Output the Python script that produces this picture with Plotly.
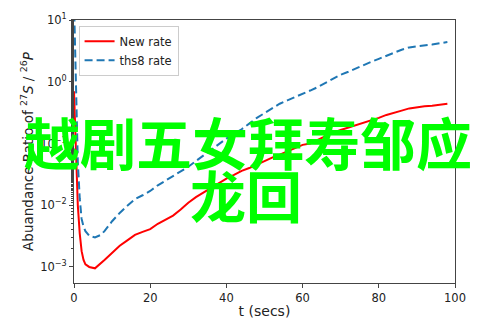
import plotly.graph_objects as go

# Time grid (seconds) and abundance ratios for both reaction-rate sets
t_new = [0, 0.3, 0.6, 1, 1.5, 2, 2.5, 3, 4, 5.5, 8, 10, 12, 14, 16, 18, 20, 22, 24, 26,
         28, 30, 32, 34, 36, 38, 40, 42, 44, 46, 48, 50, 52, 54, 56, 58, 60, 62, 64, 66,
         68, 70, 72, 74, 76, 78, 80, 82, 84, 86, 88, 90, 92, 94, 96, 98]
ratio_new = [0.7, 0.2, 0.04, 0.01, 3.5e-3, 1.8e-3, 1.3e-3, 1.1e-3, 1.0e-3, 9.5e-4,
             1.3e-3, 1.7e-3, 2.2e-3, 2.7e-3, 3.3e-3, 3.7e-3, 4.1e-3, 5.0e-3, 5.9e-3, 6.8e-3,
             8.5e-3, 0.011, 0.0135, 0.016, 0.019, 0.023, 0.027, 0.031, 0.036, 0.040,
             0.046, 0.052, 0.059, 0.066, 0.075, 0.085, 0.095, 0.10, 0.115, 0.13,
             0.15, 0.165, 0.18, 0.20, 0.22, 0.24, 0.26, 0.29, 0.31, 0.34,
             0.37, 0.39, 0.40, 0.41, 0.43, 0.44]

t_ths8 = [0, 0.3, 0.6, 1, 1.5, 2, 2.5, 3, 4, 5.5, 7, 8, 10, 12, 14, 16, 18, 20, 22, 24,
          26, 28, 30, 32, 34, 36, 38, 40, 42, 44, 46, 48, 50, 52, 54, 56, 58, 60, 62, 64,
          66, 68, 70, 72, 74, 76, 78, 80, 82, 84, 86, 88, 90, 92, 94, 96, 98]
ratio_ths8 = [20, 3, 0.3, 0.05, 0.013, 6e-3, 4.5e-3, 3.8e-3, 3.2e-3, 3.0e-3, 3.3e-3, 3.8e-3,
              5.5e-3, 7.5e-3, 9.8e-3, 0.0125, 0.0145, 0.017, 0.021, 0.025,
              0.029, 0.035, 0.042, 0.052, 0.064, 0.08, 0.10, 0.12, 0.145, 0.17,
              0.21, 0.26, 0.31, 0.37, 0.44, 0.50, 0.56, 0.63, 0.72, 0.82,
              0.95, 1.1, 1.3, 1.45, 1.65, 1.85, 2.1, 2.35, 2.6, 2.95,
              3.3, 3.6, 3.75, 3.85, 4.0, 4.2, 4.4]

x_ticks = [0, 20, 40, 60, 80, 100]
y_ticks = [1e-3, 1e-2, 1e-1, 1e0, 1e1]
y_tick_text = ["10<sup>−3</sup>", "10<sup>−2</sup>", "10<sup>−1</sup>", "10<sup>0</sup>", "10<sup>1</sup>"]

overlay_lines = ["越剧五女拜寿邹应", "龙回"]

fig = go.Figure()
fig.add_trace(go.Scatter(x=t_new, y=ratio_new, mode="lines", name="New rate",
                         line=dict(color="#ff0000", width=2)))
fig.add_trace(go.Scatter(x=t_ths8, y=ratio_ths8, mode="lines", name="ths8 rate",
                         line=dict(color="#1f77b4", width=2, dash="8px,4px")))

axis_color = "#444444"
fig.update_layout(
    width=493, height=329,
    margin=dict(l=74, r=38, t=17, b=41),
    paper_bgcolor="white", plot_bgcolor="white",
    font=dict(family="DejaVu Sans", size=11.5, color="#222222"),
    showlegend=True,
    legend=dict(x=0.012, y=0.978, xanchor="left", yanchor="top",
                bgcolor="rgba(255,255,255,0.8)", bordercolor="#cccccc", borderwidth=1,
                font=dict(size=11.5), tracegroupgap=0, itemwidth=30),
    xaxis=dict(range=[0, 100], tickvals=x_ticks, ticks="outside", ticklen=4,
               tickcolor=axis_color, showline=True, linecolor=axis_color, linewidth=1,
               mirror=True, showgrid=False, zeroline=False,
               title=dict(text="t (secs)", font=dict(size=14), standoff=2)),
    yaxis=dict(type="log", range=[-3.26, 1], tickvals=y_ticks, ticktext=y_tick_text,
               ticks="outside", ticklen=4, tickcolor=axis_color,
               minor=dict(ticks="outside", ticklen=2, tickcolor=axis_color, showgrid=False),
               showline=True, linecolor=axis_color, linewidth=1, mirror=True,
               showgrid=False, zeroline=False,
               title=dict(text="Abuandance Ratio of <sup>27</sup><i>S</i> / <sup>26</sup><i>P</i>",
                          font=dict(size=13.5), standoff=3)),
)

# Large green caption drawn across the plot
fig.add_annotation(text=overlay_lines[0], xref="paper", yref="paper", x=0.457, y=0.54,
                   showarrow=False, xanchor="center", yanchor="middle",
                   font=dict(family="Noto Sans CJK SC", size=56, color="#00ff00", weight="bold"))
fig.add_annotation(text=overlay_lines[1], xref="paper", yref="paper", x=0.451, y=0.34,
                   showarrow=False, xanchor="center", yanchor="middle",
                   font=dict(family="Noto Sans CJK SC", size=56, color="#00ff00", weight="bold"))

fig.write_html("out.html")
